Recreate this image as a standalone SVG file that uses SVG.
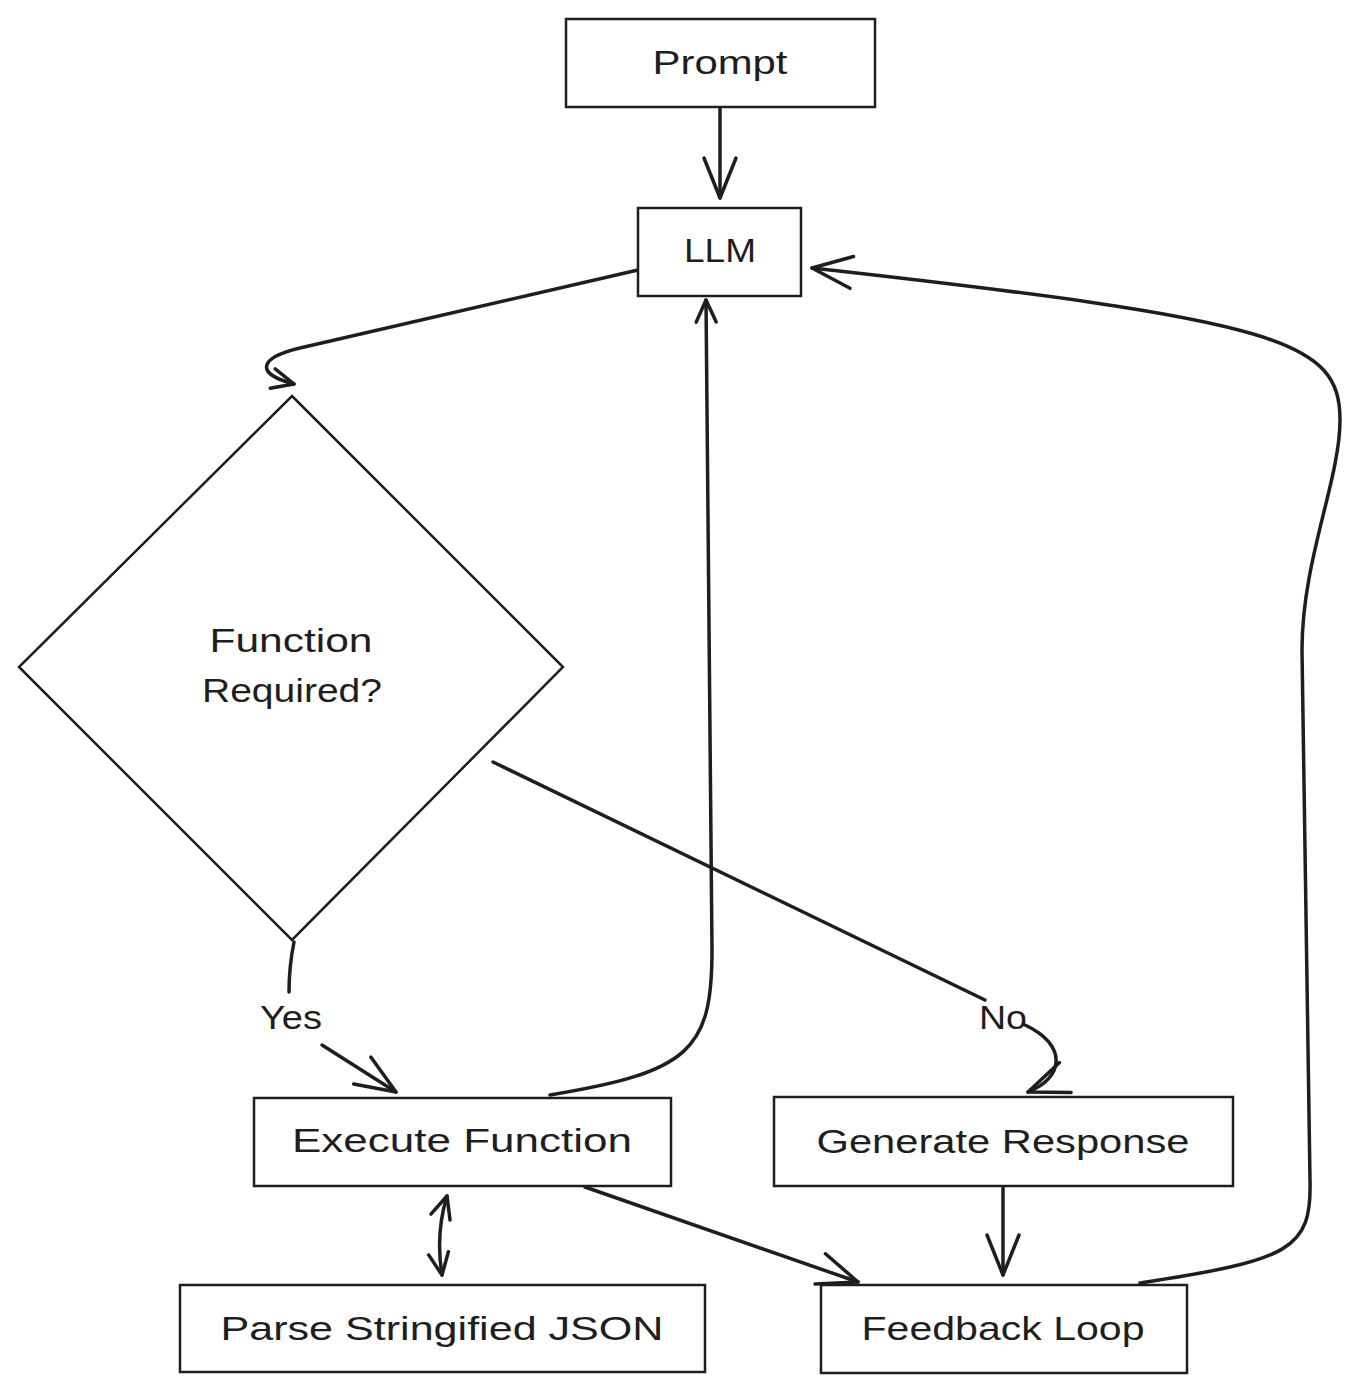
<svg xmlns="http://www.w3.org/2000/svg" width="1360" height="1393" viewBox="0 0 1360 1393">
<style>
.box{fill:#fff;stroke:#1e1e1e;stroke-width:2.5}
.t{font-family:"Liberation Sans",Arial,sans-serif;font-size:34px;fill:#1e1e1e;text-anchor:middle;dominant-baseline:central}
.c{fill:none;stroke:#1e1e1e;stroke-width:3.5;stroke-linecap:round;stroke-linejoin:round}
</style>
<defs>
<marker id="ah" markerUnits="userSpaceOnUse" viewBox="-50 -25 55 50" refX="0" refY="0" markerWidth="55" markerHeight="50" orient="auto-start-reverse">
<path d="M-40 -16 L0 0 L-40 16" fill="none" stroke="#1e1e1e" stroke-width="3.5" stroke-linecap="round" stroke-linejoin="round"/>
</marker>
<marker id="ahs" markerUnits="userSpaceOnUse" viewBox="-50 -25 55 50" refX="0" refY="0" markerWidth="55" markerHeight="50" orient="auto-start-reverse">
<path d="M-22 -10 L0 0 L-22 10" fill="none" stroke="#1e1e1e" stroke-width="3.5" stroke-linecap="round" stroke-linejoin="round"/>
</marker>
</defs>
<rect width="1360" height="1393" fill="#fff"/>
<g id="connectors">
<path class="c" d="M720 108 L720 198" marker-end="url(#ah)"/>
<path class="c" d="M638 270 L300 348 C258 358 255 374 294 384" marker-end="url(#ahs)"/>
<path class="c" d="M294 942 C290 962 289 978 289 992"/>
<path class="c" d="M322 1045 L396 1092" marker-end="url(#ah)"/>
<path class="c" d="M493 762 L985 1000"/>
<path class="c" d="M1025 1025 C1068 1045 1064 1078 1028 1092" marker-end="url(#ah)"/>
<path class="c" d="M550 1095 C690 1072 712 1050 712 950 L706 300" marker-end="url(#ahs)"/>
<path class="c" d="M447 1196 C438 1225 438 1250 442 1275" marker-start="url(#ahs)" marker-end="url(#ahs)"/>
<path class="c" d="M585 1187 L858 1282" marker-end="url(#ah)"/>
<path class="c" d="M1003 1187 L1003 1275" marker-end="url(#ah)"/>
<path class="c" d="M1140 1283 C1290 1260 1312 1250 1310 1180 L1302 650 C1302 560 1340 480 1340 420 C1340 340 1280 320 812 268" marker-end="url(#ah)"/>
</g>
<g id="prompt"><rect class="box" x="566" y="19" width="309" height="88"/><text class="t" x="720" y="62" textLength="135" lengthAdjust="spacingAndGlyphs">Prompt</text></g>
<g id="llm"><rect class="box" x="638" y="208" width="163" height="88"/><text class="t" x="720" y="250" textLength="72" lengthAdjust="spacingAndGlyphs">LLM</text></g>
<g id="decision"><polygon class="box" points="292,396 563,667 292,940 19,667"/><text class="t" x="291" y="640" textLength="163" lengthAdjust="spacingAndGlyphs">Function</text><text class="t" x="292" y="690" textLength="180" lengthAdjust="spacingAndGlyphs">Required?</text></g>
<g id="label-yes"><text class="t" x="291" y="1017" textLength="62" lengthAdjust="spacingAndGlyphs">Yes</text></g>
<g id="label-no"><text class="t" x="1003" y="1017" textLength="48" lengthAdjust="spacingAndGlyphs">No</text></g>
<g id="execute"><rect class="box" x="254" y="1098" width="417" height="88"/><text class="t" x="462" y="1140" textLength="340" lengthAdjust="spacingAndGlyphs">Execute Function</text></g>
<g id="generate"><rect class="box" x="774" y="1097" width="459" height="89"/><text class="t" x="1003" y="1141" textLength="373" lengthAdjust="spacingAndGlyphs">Generate Response</text></g>
<g id="parse"><rect class="box" x="180" y="1285" width="525" height="87"/><text class="t" x="442" y="1328" textLength="443" lengthAdjust="spacingAndGlyphs">Parse Stringified JSON</text></g>
<g id="feedback"><rect class="box" x="821" y="1285" width="366" height="88"/><text class="t" x="1003" y="1328" textLength="283" lengthAdjust="spacingAndGlyphs">Feedback Loop</text></g>
</svg>
